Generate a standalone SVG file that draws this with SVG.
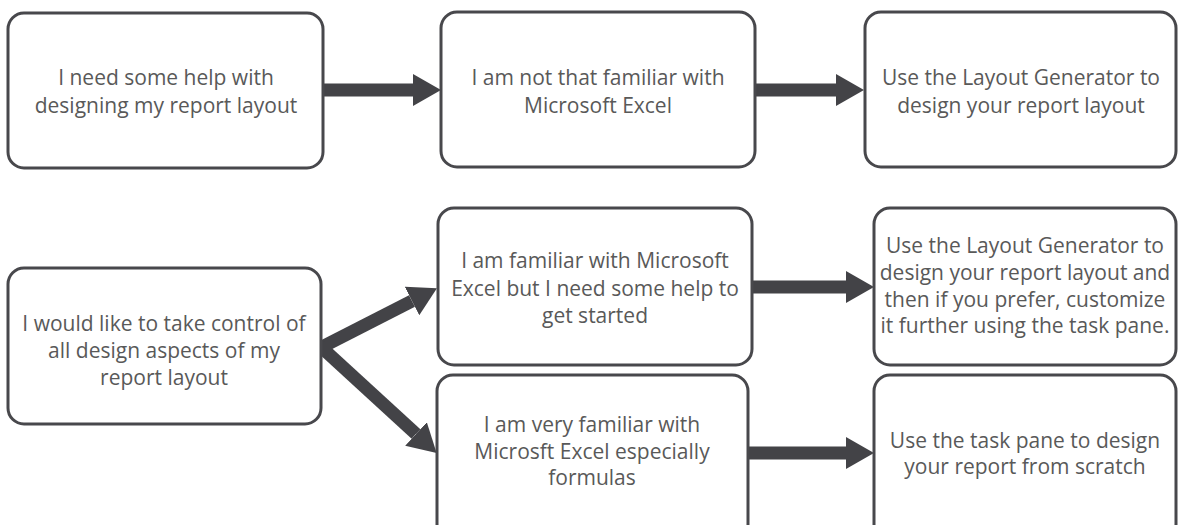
<svg xmlns="http://www.w3.org/2000/svg" width="1178" height="525" viewBox="0 0 1178 525">
<style>
.box{fill:#fff;stroke:#48484c;stroke-width:3}
.t{font-family:"Open Sans","Liberation Sans",sans-serif;font-size:21px;fill:#595959;text-anchor:middle}
.c{stroke:#434347;stroke-width:13;fill:none}
</style>
<defs>
<marker id="ah" markerUnits="userSpaceOnUse" markerWidth="28" markerHeight="32" refX="0" refY="16" orient="auto" viewBox="0 0 28 32">
<path d="M0,0 L28,16 L0,32 z" fill="#434347"/>
</marker>
</defs>
<rect width="1178" height="525" fill="#fff"/>
<g id="connectors">
<line class="c" x1="323" y1="90" x2="413" y2="90" marker-end="url(#ah)"/>
<line class="c" x1="755" y1="90" x2="836" y2="90" marker-end="url(#ah)"/>
<line class="c" x1="752" y1="287" x2="846" y2="287" marker-end="url(#ah)"/>
<line class="c" x1="748" y1="453" x2="846" y2="453" marker-end="url(#ah)"/>
<line class="c" x1="320" y1="348" x2="412" y2="301" marker-end="url(#ah)"/>
<line class="c" x1="320" y1="346" x2="416" y2="434" marker-end="url(#ah)"/>
</g>
<g id="n1"><rect class="box" x="8" y="13" width="315" height="155" rx="16"/>
<text class="t" x="166" y="85">I need some help with</text>
<text class="t" x="166" y="113">designing my report layout</text></g>
<g id="n2"><rect class="box" x="441" y="12" width="314" height="155" rx="16"/>
<text class="t" x="598" y="85">I am not that familiar with</text>
<text class="t" x="598" y="113">Microsoft Excel</text></g>
<g id="n3"><rect class="box" x="865" y="12" width="311" height="155" rx="16"/>
<text class="t" x="1021" y="85">Use the Layout Generator to</text>
<text class="t" x="1021" y="113">design your report layout</text></g>
<g id="n4"><rect class="box" x="8" y="268" width="313" height="156" rx="16"/>
<text class="t" x="164" y="331">I would like to take control of</text>
<text class="t" x="164" y="358">all design aspects of my</text>
<text class="t" x="164" y="385">report layout</text></g>
<g id="n5"><rect class="box" x="438" y="208" width="314" height="157" rx="16"/>
<text class="t" x="595" y="268">I am familiar with Microsoft</text>
<text class="t" x="595" y="296">Excel but I need some help to</text>
<text class="t" x="595" y="323">get started</text></g>
<g id="n6"><rect class="box" x="874" y="208" width="302" height="157" rx="16"/>
<text class="t" x="1025" y="253">Use the Layout Generator to</text>
<text class="t" x="1025" y="280">design your report layout and</text>
<text class="t" x="1025" y="307">then if you prefer, customize</text>
<text class="t" x="1025" y="333">it further using the task pane.</text></g>
<g id="n7"><rect class="box" x="437" y="375" width="311" height="165" rx="16"/>
<text class="t" x="592" y="432">I am very familiar with</text>
<text class="t" x="592" y="459">Microsft Excel especially</text>
<text class="t" x="592" y="485">formulas</text></g>
<g id="n8"><rect class="box" x="874" y="375" width="302" height="165" rx="16"/>
<text class="t" x="1025" y="448">Use the task pane to design</text>
<text class="t" x="1025" y="474">your report from scratch</text></g>
</svg>
